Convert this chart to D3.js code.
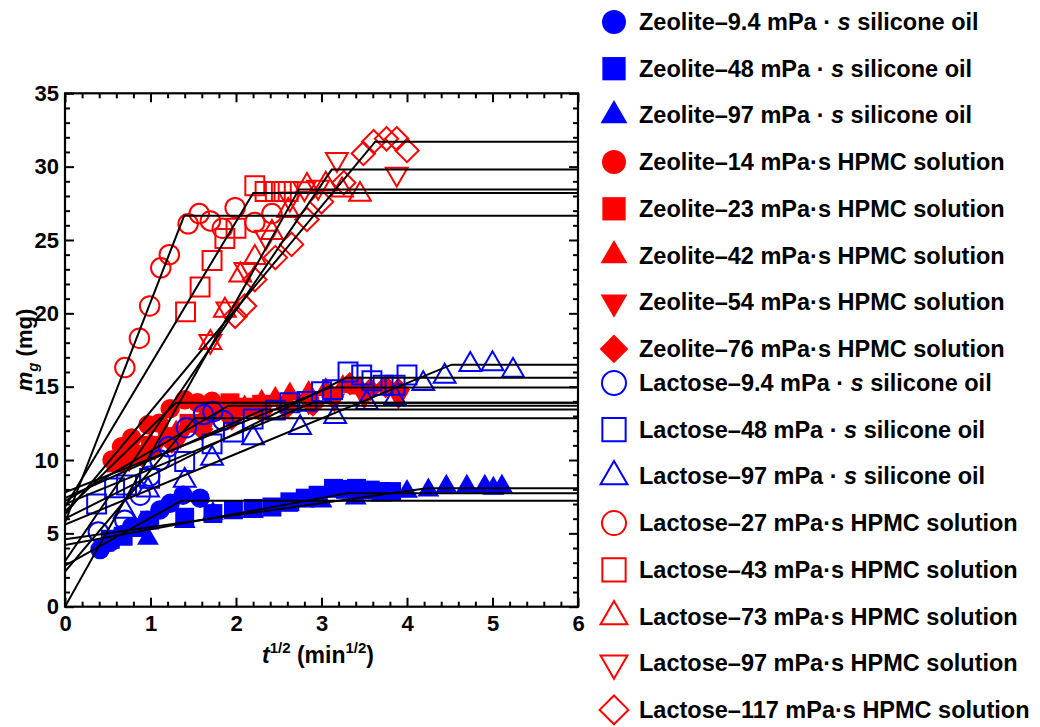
<!DOCTYPE html>
<html><head><meta charset="utf-8">
<script src="https://cdn.jsdelivr.net/npm/d3@7"></script>
<style>
body{margin:0;background:#fff}
svg{display:block}
text{font-family:"Liberation Sans",Arial,sans-serif;font-weight:bold;fill:#000}
</style>
</head><body>
<svg id="c" width="1040" height="727"></svg>
<script>
// ---------- DATA ----------
const seriesNames = [
  "Zeolite–9.4","Zeolite–48","Zeolite–97",
  "Zeolite–14","Zeolite–23","Zeolite–42","Zeolite–54","Zeolite–76",
  "Lactose–9.4","Lactose–48","Lactose–97",
  "Lactose–27","Lactose–43","Lactose–73","Lactose–97","Lactose–117"
];
const seriesFluid = ["oil","oil","oil","hpmc","hpmc","hpmc","hpmc","hpmc",
                     "oil","oil","oil","hpmc","hpmc","hpmc","hpmc","hpmc"];
const seriesShape = ["circle","square","triangle","circle","square","triangle","down","diamond",
                     "circle","square","triangle","circle","square","triangle","down","diamond"];
const seriesFilled = [true,true,true,true,true,true,true,true,
                      false,false,false,false,false,false,false,false];
const seriesColor = ["blue","blue","blue","red","red","red","red","red",
                     "blue","blue","blue","red","red","red","red","red"];

const zeolite94 = [[0.41,3.9],[0.53,4.4],[0.66,4.9],[0.78,5.45],[0.96,5.9],[1.11,6.6],[1.23,7.05],[1.38,7.6],[1.58,7.4]];
const zeolite48 = [[0.53,4.6],[0.68,4.8],[0.85,5.4],[0.99,5.9],[1.40,6.1],[1.73,6.35],[1.97,6.6],[2.20,6.7],[2.42,6.8],[2.63,7.15],[2.81,7.4],[2.96,7.6],[3.14,8.07],[3.28,8.0],[3.41,8.07],[3.57,7.95],[3.70,7.85],[3.82,7.85]];
const zeolite97 = [[0.45,4.2],[0.97,4.65],[1.40,5.8],[1.73,6.35],[2.20,6.5],[2.60,6.9],[3.00,7.2],[3.40,7.4],[3.70,7.6],[4.00,7.85],[4.25,7.95],[4.46,8.2],[4.70,8.2],[4.91,8.2],[5.01,8.07],[5.11,8.2]];
const zeolite14 = [[0.55,10.0],[0.66,10.9],[0.78,11.5],[0.97,12.4],[1.10,12.5],[1.23,13.5],[1.40,14.1],[1.55,13.9],[1.72,14.0]];
const zeolite23 = [[0.60,9.8],[0.80,10.4],[1.00,11.0],[1.20,11.6],[1.45,12.5],[1.70,13.3],[1.93,13.9],[2.11,13.6],[2.30,13.8]];
const zeolite42 = [[0.70,10.2],[1.00,11.1],[1.30,11.9],[1.60,12.7],[1.85,13.2],[2.10,13.6],[2.30,14.0],[2.46,14.2],[2.63,14.5],[2.85,14.6],[3.05,14.8],[3.25,15.0],[3.45,14.9]];
const zeolite54 = [[0.75,10.0],[1.05,10.8],[1.35,11.6],[1.65,12.5],[1.95,13.2],[2.25,13.6],[2.55,13.7],[2.85,13.9],[3.15,14.1],[3.50,14.3],[3.90,14.3]];
const zeolite76 = [[0.90,10.3],[1.25,11.2],[1.60,12.1],[1.95,12.8],[2.30,13.3],[2.60,13.6],[2.90,13.75],[3.13,14.3],[3.33,15.2],[3.57,14.8],[3.75,15.0],[3.90,14.8]];
const lactose94 = [[0.39,5.1],[0.70,5.9],[0.88,7.6],[0.99,8.9],[1.11,10.0],[1.21,10.9],[1.42,12.2],[1.62,13.1],[1.73,13.3],[1.85,12.7]];
const lactose48 = [[0.37,7.0],[0.58,8.1],[0.72,8.3],[0.99,8.75],[1.40,9.9],[1.72,11.1],[1.97,11.9],[2.20,12.8],[2.46,13.4],[2.63,13.9],[2.83,14.0],[3.00,14.65],[3.13,14.8],[3.31,16.0],[3.47,15.8],[3.59,15.4],[3.72,15.1],[3.86,15.1],[4.00,15.8]];
const lactose97 = [[0.70,6.5],[0.97,7.95],[1.40,8.6],[1.72,10.1],[2.20,11.5],[2.75,12.2],[3.16,12.95],[3.53,13.9],[3.86,14.2],[4.19,15.2],[4.44,15.7],[4.74,16.5],[5.00,16.55],[5.24,16.1]];
const lactose27 = [[0.70,16.3],[0.87,18.3],[0.99,20.5],[1.12,23.1],[1.22,24.0],[1.44,26.1],[1.57,26.8],[1.70,26.3],[1.84,25.8],[1.99,27.2],[2.22,26.2],[2.42,26.8]];
const lactose43 = [[1.41,20.1],[1.58,21.8],[1.72,23.6],[1.87,25.1],[2.00,25.8],[2.22,28.7],[2.34,28.3],[2.46,28.3],[2.53,28.3],[2.61,28.3]];
const lactose73 = [[1.70,18.0],[1.87,20.2],[2.05,22.6],[2.22,23.8],[2.42,25.5],[2.61,27.0],[2.83,28.7],[3.05,28.8],[3.24,28.4],[3.45,28.1]];
const lactose97h = [[1.70,18.1],[1.90,20.3],[2.11,23.0],[2.35,25.2],[2.63,27.8],[2.80,28.5],[2.96,28.6],[3.18,30.5],[3.88,29.5]];
const lactose117 = [[1.99,19.8],[2.10,20.5],[2.22,22.3],[2.46,23.8],[2.65,24.7],[2.83,26.4],[3.00,27.6],[3.26,28.9],[3.49,30.9],[3.61,31.7],[3.76,31.9],[3.88,31.9],[4.00,31.1]];

// fitted bilinear model: m = intercept + slope*t, capped at plateau
const fitIntercept = [2.8,4.2,4.6, 6.5,7.2,7.8,7.4,7.0, 2.4,6.0,5.6, 5.75,6.8,0.0,3.1,6.3];
const fitSlope     = [3.25,1.07,0.82, 5.7,3.4,2.3,2.6,2.38, 6.9,2.92,2.41, 15.0,9.72,10.4,8.56,7.0];
const fitPlateau   = [7.23,7.73,8.07, 13.9,13.7,14.95,13.45,13.9, 12.85,15.6,16.5, 26.65,28.2,28.45,29.8,31.7];

const xMajorTicks = [0,1,2,3,4,5,6];
const yMajorTicks = [0,5,10,15,20,25,30,35];

const seriesData = [zeolite94,zeolite48,zeolite97,zeolite14,zeolite23,zeolite42,zeolite54,zeolite76,
                    lactose94,lactose48,lactose97,lactose27,lactose43,lactose73,lactose97h,lactose117];

// ---------- LAYOUT ----------
const svg = d3.select("#c");
const colorMap = {blue:"#0000ff", red:"#ff0000"};
const x = d3.scaleLinear().domain([0,6]).range([65,578]);
const y = d3.scaleLinear().domain([0,35]).range([606.7,93.3]);
const X0=x(0), X1=x(6), Y0=y(0), Y1=y(35);

function markerPath(shape, s){
  if(shape==="circle") return d3.symbol(d3.symbolCircle, Math.PI*(s/2)*(s/2))();
  if(shape==="square") return d3.symbol(d3.symbolSquare, (s*0.97)*(s*0.97))();
  if(shape==="triangle"||shape==="down"){
    const w=s*1.12, h=w*Math.sqrt(3)/2;
    return `M0,${-2*h/3}L${w/2},${h/3}L${-w/2},${h/3}Z`;
  }
  if(shape==="diamond"){ const r=s*0.6; return `M0,${-r}L${r},0L0,${r}L${-r},0Z`; }
}
function drawMarker(g, shape, filled, col, cx, cy, s){
  const p = g.append("path").attr("d", markerPath(shape,s))
    .attr("transform", `translate(${cx},${cy})` + (shape==="down"?" rotate(180)":""));
  if(filled) p.attr("fill", col).attr("stroke","none");
  else p.attr("fill","none").attr("stroke", col).attr("stroke-width",2);
}

svg.append("defs").append("clipPath").attr("id","clip")
  .append("rect").attr("x",X0).attr("y",Y1).attr("width",X1-X0).attr("height",Y0-Y1);

// markers
const gm = svg.append("g").attr("clip-path","url(#clip)");
seriesData.forEach((pts,i)=>{
  const col = colorMap[seriesColor[i]];
  pts.forEach(p=>drawMarker(gm, seriesShape[i], seriesFilled[i], col, x(p[0]), y(p[1]), 19.5));
});

// fit lines
const gl = svg.append("g").attr("clip-path","url(#clip)");
const line = d3.line().x(d=>x(d[0])).y(d=>y(d[1]));
seriesData.forEach((pts,i)=>{
  const a=fitIntercept[i], b=fitSlope[i], p=fitPlateau[i];
  const tb=(p-a)/b;
  gl.append("path").attr("d", line([[0,a],[tb,p],[6,p]]))
    .attr("fill","none").attr("stroke","#000").attr("stroke-width",2);
});

// axes
const xMinor = d3.range(0,6.001,0.2).filter(v=>Math.abs(v-Math.round(v))>1e-6);
const yMinor = d3.range(0,35.001,1).filter(v=>v%5!==0);
const tickStyle = g=>{ g.select(".domain").remove(); g.selectAll("line").attr("stroke","#000").attr("stroke-width",2);
  g.selectAll("text").style("font-size","22px").style("font-weight","bold").attr("fill","#000"); };

svg.append("g").attr("transform",`translate(0,${Y0})`)
  .call(d3.axisBottom(x).tickValues(xMajorTicks).tickFormat(d3.format("d")).tickSize(-9).tickPadding(9)).call(tickStyle);
svg.append("g").attr("transform",`translate(0,${Y0})`)
  .call(d3.axisBottom(x).tickValues(xMinor).tickFormat("").tickSize(-5)).call(tickStyle);
svg.append("g").attr("transform",`translate(0,${Y1})`)
  .call(d3.axisTop(x).tickValues(xMajorTicks).tickFormat("").tickSize(-9)).call(tickStyle);
svg.append("g").attr("transform",`translate(0,${Y1})`)
  .call(d3.axisTop(x).tickValues(xMinor).tickFormat("").tickSize(-5)).call(tickStyle);
svg.append("g").attr("transform",`translate(${X0},0)`)
  .call(d3.axisLeft(y).tickValues(yMajorTicks).tickFormat(d3.format("d")).tickSize(-9).tickPadding(6)).call(tickStyle);
svg.append("g").attr("transform",`translate(${X0},0)`)
  .call(d3.axisLeft(y).tickValues(yMinor).tickFormat("").tickSize(-5)).call(tickStyle);
svg.append("g").attr("transform",`translate(${X1},0)`)
  .call(d3.axisRight(y).tickValues(yMajorTicks).tickFormat("").tickSize(-9)).call(tickStyle);
svg.append("g").attr("transform",`translate(${X1},0)`)
  .call(d3.axisRight(y).tickValues(yMinor).tickFormat("").tickSize(-5)).call(tickStyle);

svg.append("rect").attr("x",X0).attr("y",Y1).attr("width",X1-X0).attr("height",Y0-Y1)
  .attr("fill","none").attr("stroke","#000").attr("stroke-width",2.2);

// axis titles
const xt = svg.append("text").attr("x",318).attr("y",663).attr("text-anchor","middle").style("font-size","23px");
xt.append("tspan").text("t").style("font-style","italic");
xt.append("tspan").text("1/2").attr("dy",-10).style("font-size","15px");
xt.append("tspan").text(" (min").attr("dy",10);
xt.append("tspan").text("1/2").attr("dy",-10).style("font-size","15px");
xt.append("tspan").text(")").attr("dy",10);

const yt = svg.append("text").attr("transform",`translate(32,350) rotate(-90)`).attr("text-anchor","middle").style("font-size","22px");
yt.append("tspan").text("m").style("font-style","italic");
yt.append("tspan").text("g").attr("dy",6).style("font-size","15px").style("font-style","italic");
yt.append("tspan").text(" (mg)").attr("dy",-6);

// legend
const visc = ["9.4","48","97","14","23","42","54","76","9.4","48","97","27","43","73","97","117"];
const lg = svg.append("g");
seriesNames.forEach((nm,i)=>{
  const cy = i<8 ? 22 + i*46.7 : 383 + (i-8)*46.7;
  drawMarker(lg, seriesShape[i], seriesFilled[i], colorMap[seriesColor[i]], 614, cy, 24);
  const t = lg.append("text").attr("x",639).attr("y",cy+8).style("font-size","23.5px");
  if(seriesFluid[i]==="oil"){
    t.append("tspan").text(nm.split("–")[0]+"–"+visc[i]+" mPa · ");
    t.append("tspan").text("s").style("font-style","italic");
    t.append("tspan").text(" silicone oil");
  } else {
    t.append("tspan").text(nm.split("–")[0]+"–"+visc[i]+" mPa·s HPMC solution");
  }
});
</script>
</body></html>
